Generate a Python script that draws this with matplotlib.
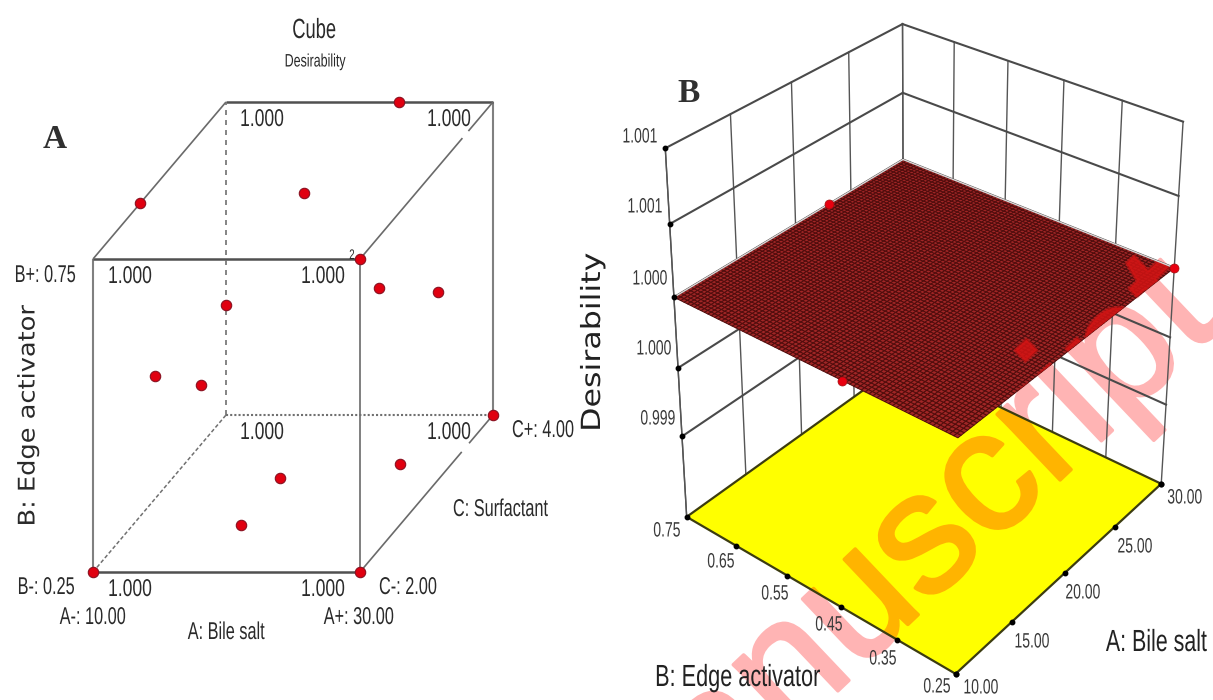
import numpy as np
import matplotlib
matplotlib.use("Agg")
import matplotlib.pyplot as plt
import matplotlib.patheffects as pe
from matplotlib.collections import PolyCollection
from matplotlib.patches import Polygon
from matplotlib.transforms import Affine2D

# ---------- data, panel A (design points) ----------
cube_A = [22.96, 10.0, 21.6, 30.0, 30.0, 30.0, 10.0, 10.0, 10.0, 30.0, 26.14, 18.05, 18.1, 10.0, 30.0]
cube_B = [0.75, 0.75, 0.75, 0.75, 0.667, 0.55, 0.426, 0.446, 0.345, 0.25, 0.25, 0.25, 0.25, 0.25, 0.25]
cube_C = [4.0, 2.71, 2.84, 2.0, 2.29, 3.17, 4.0, 2.93, 3.62, 4.0, 3.38, 3.2, 2.6, 2.0, 2.0]
corner_value = "1.000"

# ---------- data, panel B ----------
bile_ticks = [10.0, 15.0, 20.0, 25.0, 30.0]
bile_labels = ["10.00", "15.00", "20.00", "25.00", "30.00"]
edge_ticks = [0.75, 0.65, 0.55, 0.45, 0.35, 0.25]
edge_labels = ["0.75", "0.65", "0.55", "0.45", "0.35", "0.25"]
z_ticks = [1.001, 1.0005, 1.0, 0.9995, 0.999]
z_labels = ["1.001", "1.001", "1.000", "1.000", "0.999"]
z_floor = 0.99839
surface_value = 1.0
pts_bile = [23.0, 30.0, 10.0]
pts_edge = [0.75, 0.25, 0.44]
pts_z = [1.0, 1.0, 1.0]


class Stretch(pe.AbstractPathEffect):
    """Draw the glyphs of a text wider or narrower along its own baseline."""

    def __init__(self, sx):
        super().__init__()
        self.sx = sx

    def draw_path(self, renderer, gc, tpath, affine, rgbFace=None):
        ext = tpath.get_extents()
        mid = (ext.x0 + ext.x1) / 2
        renderer.draw_path(gc, tpath, Affine2D().translate(-mid, 0).scale(self.sx, 1).translate(mid, 0) + affine, rgbFace)


SANS = "Liberation Sans"
fig = plt.figure(figsize=(12.13, 7.0), dpi=100)
ax = fig.add_axes([0, 0, 1, 1])
ax.set_xlim(0, 1213)
ax.set_ylim(700, 0)
ax.axis("off")


def label(cx, cy, s, size, sx=0.7, color="#2a2a2a", zorder=9, family=SANS, rotation=0, **kw):
    return ax.text(cx, cy, s, fontsize=size, color=color, family=family, rotation=rotation, zorder=zorder,
                   ha="center", va="center", path_effects=[Stretch(sx)], **kw)


# ---------- panel A oblique projection ----------
def cube_xy(a, b, c):
    a, b, c = map(np.asarray, (a, b, c))
    return (93 + 267 * (a - 10) / 20 + 133 * (c - 2) / 2,
            572 - 313 * (b - 0.25) / 0.5 - 157 * (c - 2) / 2)


def cube_line(p, q, **kw):
    x, y = cube_xy(*zip(p, q))
    ax.plot(x, y, zorder=3, solid_capstyle="butt", **kw)


grey = dict(color="#808080", lw=1.5)
dark = dict(color="#505050", lw=1.8)
thin = dict(color="#6a6a6a", lw=1.2)
cube_line((10, .25, 2), (10, .75, 2), **grey)
cube_line((30, .25, 2), (30, .75, 2), **thin)
cube_line((30, .25, 4), (30, .75, 4), **grey)
cube_line((10, .25, 2), (30, .25, 2), **dark)
cube_line((10, .75, 2), (30, .75, 2), **dark)
cube_line((10, .75, 4), (30, .75, 4), **dark)
cube_line((10, .75, 2), (10, .75, 4), **thin)
cube_line((30, .75, 2), (30, .75, 3.54), **thin)
cube_line((30, .75, 3.63), (30, .75, 4), **thin)
cube_line((30, .25, 2), (30, .25, 3.53), **thin)
cube_line((30, .25, 3.64), (30, .25, 4), **thin)
cube_line((10, .25, 4), (10, .75, 4), color="#707070", lw=1.2, ls=(0, (3, 3)))
cube_line((10, .25, 2), (10, .25, 4), color="#707070", lw=1.1, ls=(0, (2.5, 1.5)))
cube_line((10, .25, 4), (30, .25, 4), color="#707070", lw=1.5, ls=(0, (1, 1)))

x, y = cube_xy(cube_A, cube_B, cube_C)
ax.plot(x, y, "o", ms=7.5, mfc="#e00010", mec="#8a1020", mew=0.8, zorder=6)

for cx, cy in [(130, 277), (323, 277), (262, 120), (449, 120), (262, 433), (449, 433), (130, 590), (323, 590)]:
    label(cx, cy, corner_value, 17.5, 0.72)
label(352, 255, "2", 10)
label(314, 31, "Cube", 20, 0.66)
label(315, 62, "Desirability", 13, 0.69)
for s, cx, cy in [("B+: 0.75", 45, 276), ("B-: 0.25", 46, 588), ("A-: 10.00", 93, 618),
                  ("A: Bile salt", 226, 633), ("A+: 30.00", 359, 618), ("C-: 2.00", 408, 588),
                  ("C+: 4.00", 543, 431), ("C: Surfactant", 500, 510)]:
    label(cx, cy, s, 17.5, 0.67)
label(28, 416, "B: Edge activator", 16.5, 1.12, family="DejaVu Sans", rotation=90)
ax.text(55, 140, "A", fontsize=24, family="Liberation Serif", weight="bold", ha="center", va="center", color="#303030")
ax.text(689, 94, "B", fontsize=24, family="Liberation Serif", weight="bold", ha="center", va="center", color="#303030")
label(593, 342, "Desirability", 19, 1.2, color="#222222", family="DejaVu Sans", rotation=90)

# ---------- panel B perspective camera, fitted to the drawn box ----------
calib = [  # bile, edge, z, px, py
    (10, .75, z_floor, 688.6, 518), (10, .25, z_floor, 955.6, 674), (30, .25, z_floor, 1160, 484),
    (30, .75, z_floor, 903, 362), (10, .75, 1.001, 664.5, 150), (30, .75, 1.001, 903, 25),
    (30, .25, 1.001, 1183, 123), (10, .75, 1.0, 673, 294), (30, .75, 1.0, 903, 158),
    (30, .25, 1.0, 1176, 266), (10, .25, 1.0, 957.5, 438)]


def norm(a, b, z):
    return (np.asarray(a, float) - 10) / 20, (np.asarray(b, float) - .25) / .5, (np.asarray(z, float) - .999) / .002


rows, rhs = [], []
for a, b, z, px, py in calib:
    u, v, w = norm(a, b, z)
    rows.append([u, v, w, 1, 0, 0, 0, 0, -px * u, -px * v, -px * w]); rhs.append(px)
    rows.append([0, 0, 0, 0, u, v, w, 1, -py * u, -py * v, -py * w]); rhs.append(py)
P = np.append(np.linalg.lstsq(np.array(rows), np.array(rhs), rcond=None)[0], 1).reshape(3, 4)


def cam(a, b, z):
    u, v, w = norm(a, b, z)
    d = P[2, 0] * u + P[2, 1] * v + P[2, 2] * w + P[2, 3]
    return ((P[0, 0] * u + P[0, 1] * v + P[0, 2] * w + P[0, 3]) / d,
            (P[1, 0] * u + P[1, 1] * v + P[1, 2] * w + P[1, 3]) / d)


def cam_line(p, q, **kw):
    x, y = cam(*zip(p, q))
    ax.plot(x, y, **kw)


# watermark layers: pink on paper, orange on the floor, bright red on the surface
def watermark(color, zorder, clip=None, alpha=None):
    t = ax.text(889, 581, "Manuscript", fontsize=124, family=SANS, color=color, rotation=43.5, alpha=alpha,
                rotation_mode="anchor", ha="center", va="center", zorder=zorder,
                path_effects=[pe.Stroke(linewidth=2.5, foreground=color), pe.Normal()])
    if clip is not None:
        t.set_clip_path(clip)
        t.set_clip_on(True)
    return t


watermark("#ffb4b4", 1)

wall = dict(color="#555555", lw=1.0, zorder=2)
wall_z = dict(color="#4a4a4a", lw=1.5, zorder=2)
for a in bile_ticks:
    cam_line((a, .75, z_floor), (a, .75, 1.001), **wall)
for b in edge_ticks[:-1]:
    cam_line((30, b, z_floor), (30, b, 1.001), **wall)
cam_line((10, .75, z_floor), (10, .75, 1.001), **wall)
cam_line((30, .25, z_floor), (30, .25, 1.001), **wall)
for z in z_ticks:
    cam_line((10, .75, z), (30, .75, z), **wall_z)
    cam_line((30, .75, z), (30, .25, z), **wall_z)

# floor
fx, fy = cam([10, 30, 30, 10], [.75, .75, .25, .25], [z_floor] * 4)
floor_xy = np.column_stack([fx, fy])
floor = Polygon(floor_xy, closed=True, fc="#ffff00", ec="none", zorder=3)
ax.add_patch(floor)
watermark("#ffb400", 3.5, floor)
ax.add_patch(Polygon(floor_xy, closed=True, fc="none", ec="#3c3c10", lw=1.6, zorder=4))

# surface
bile_grid = np.linspace(10, 30, 77)
edge_grid = np.linspace(0.25, 0.75, 77)
G_a, G_b = np.meshgrid(bile_grid, edge_grid)
G_z = np.full_like(G_a, surface_value)
sx, sy = cam(G_a, G_b, G_z)
quads = np.stack([np.stack([sx[:-1, :-1], sy[:-1, :-1]], -1), np.stack([sx[:-1, 1:], sy[:-1, 1:]], -1),
                  np.stack([sx[1:, 1:], sy[1:, 1:]], -1), np.stack([sx[1:, :-1], sy[1:, :-1]], -1)], axis=2)
ax.add_collection(PolyCollection(quads.reshape(-1, 4, 2), facecolors="#a02626", edgecolors="#500c0c",
                                 linewidths=0.7, zorder=5))
cx, cy = cam([10, 30, 30, 10], [.75, .75, .25, .25], [surface_value] * 4)
surf_xy = np.column_stack([cx, cy])
surf = Polygon(surf_xy, closed=True, fc="none", ec="none", zorder=5)
ax.add_patch(surf)
watermark("#d41414", 6, surf, alpha=0.6)
ax.plot(*cam([10, 30, 30], [.75, .75, .25], [surface_value] * 3), color="#d8d8d8", lw=1.0, zorder=6)

# points on the surface and tick dots
ax.plot(*cam(pts_bile, pts_edge, pts_z), "o", ms=6.5, mfc="#e80010", mec="#a01010", mew=0.5, zorder=8)
dot = dict(marker="o", ms=3.2, color="black", ls="none", zorder=8)
ax.plot(*cam(np.full(5, 10.0), np.full(5, .75), z_ticks), **dot)
ax.plot(*cam(bile_ticks, np.full(5, .25), np.full(5, z_floor)), **dot)
ax.plot(*cam(np.full(6, 10.0), edge_ticks, np.full(6, z_floor)), **dot)
ax.plot(*cam([30.0], [.25], [z_floor]), **dot)

# panel B tick labels
for s, (cx, cy) in zip(z_labels, [(640, 137), (645, 207), (650, 279), (654, 349), (658, 419)]):
    label(cx, cy, s, 15, 0.67, color="#3a3a3a")
for s, (cx, cy) in zip(edge_labels, [(667, 531), (721, 562), (775, 594), (829, 625), (883, 659), (937, 687)]):
    label(cx, cy, s, 15, 0.67, color="#3a3a3a")
for s, (cx, cy) in zip(bile_labels, [(981, 688), (1032, 642), (1083, 593), (1135, 547), (1185, 498)]):
    label(cx, cy, s, 15, 0.67, color="#3a3a3a")
label(737, 678, "B: Edge activator", 22, 0.71, color="#222222")
label(1156, 643, "A: Bile salt", 22, 0.7, color="#222222")

fig.savefig("out.png", dpi=100)
